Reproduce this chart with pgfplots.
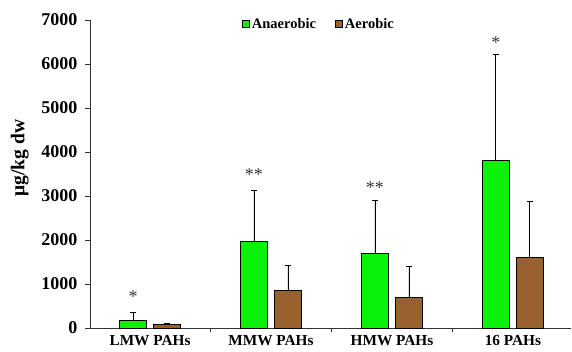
\documentclass[border=0pt]{standalone}
\usepackage{pgfplots}
\pgfplotsset{compat=1.18}
\usepackage{fontspec}
\setmainfont{Liberation Serif}
\definecolor{anagreen}{RGB}{10,242,10}
\definecolor{aerbrown}{RGB}{152,98,46}
\begin{document}
\begin{tikzpicture}
\useasboundingbox (0,0) rectangle (572pt,352pt);
\begin{axis}[
  at={(90pt,24pt)}, anchor=south west,
  scale only axis, width=481pt, height=308pt,
  xmin=-0.496, xmax=3.48, ymin=0, ymax=7000,
  separate axis lines,
  axis x line*=bottom, axis y line*=left,
  axis line style={-, line width=0.9pt, black!80},
  ybar, bar width=27pt,
  xtick={0,1,2,3}, xticklabels={LMW PAHs,MMW PAHs,HMW PAHs,16 PAHs},
  major x tick style={draw=none},
  minor xtick={0.5,1.5,2.5},
  minor x tick style={line width=0.9pt, black!80},
  minor tick length=4pt,
  ytick={0,1000,...,7000},
  major tick length=5pt,
  tick align=outside,
  y tick style={line width=0.9pt, black!80},
  scaled y ticks=false,
  /pgf/number format/assume math mode=true,
  /pgf/number format/1000 sep={},
  yticklabel style={font=\fontsize{18}{20}\selectfont\bfseries, xshift=-4pt},
  xticklabel style={font=\fontsize{15.3}{17}\selectfont\bfseries, yshift=1pt},
  ylabel={μg/kg dw},
  ylabel style={at={(axis description cs:-0.146,0.552)}, anchor=center, font=\fontsize{19.5}{21}\selectfont\bfseries},
  legend style={at={(axis description cs:0.476,0.987)}, anchor=center, draw=none, fill=none,
    legend columns=2, font=\fontsize{14.5}{17}\selectfont\bfseries,
    /tikz/every even column/.style={column sep=17pt}},
  legend image code/.code={\draw[#1, line width=0.8pt, draw=black] (0pt,-3.5pt) rectangle (7pt,3.5pt);},
  error bars/y dir=plus, error bars/y explicit,
  error bars/error bar style={black, line width=0.9pt},
  error bars/error mark options={black, line width=0.9pt, mark size=3pt, rotate=90},
  clip=false,
]
\addplot[fill=anagreen, draw=black, line width=0.8pt, bar shift=-17pt] coordinates {
  (0,180) +- (0,170)
  (1,1970) +- (0,1165)
  (2,1697) +- (0,1197)
  (3,3815) +- (0,2405)
};
\addplot[fill=aerbrown, draw=black, line width=0.8pt, bar shift=17pt] coordinates {
  (0,80) +- (0,15)
  (1,848) +- (0,577)
  (2,697) +- (0,697)
  (3,1606) +- (0,1273)
};
\legend{Anaerobic,Aerobic}
\node[font=\fontsize{18}{18}\selectfont, text=black!80] at (axis cs:0,705) [xshift=-17pt] {*};
\node[font=\fontsize{18}{18}\selectfont, text=black!80] at (axis cs:1,3477) [xshift=-17pt] {**};
\node[font=\fontsize{18}{18}\selectfont, text=black!80] at (axis cs:2,3200) [xshift=-17pt] {**};
\node[font=\fontsize{18}{18}\selectfont, text=black!80] at (axis cs:3,6477) [xshift=-17pt] {*};
\end{axis}
\end{tikzpicture}
\end{document}
